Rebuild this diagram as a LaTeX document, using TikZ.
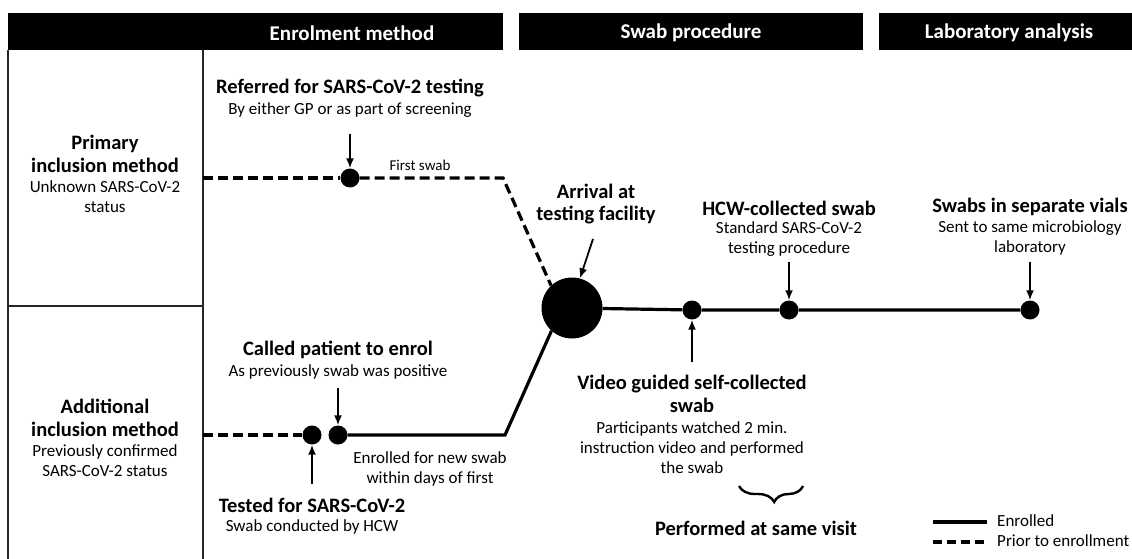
\documentclass[tikz,border=0pt]{standalone}
\usepackage{fontspec}
\setmainfont{Carlito}
\usetikzlibrary{arrows.meta,decorations.pathreplacing}
\begin{document}
\begin{tikzpicture}[x=1pt,y=-1pt,
  ttl/.style={font=\fontsize{20.5}{22.5}\selectfont\bfseries, inner sep=0pt, align=center},
  sub/.style={font=\fontsize{17}{20}\selectfont, inner sep=0pt, align=center},
  hdr/.style={font=\fontsize{21}{22}\selectfont\bfseries, text=white, inner sep=0pt},
  dot/.style={circle, fill=black, minimum size=19pt, inner sep=0pt},
  bigdot/.style={circle, fill=black, minimum size=61pt, inner sep=0pt},
  enr/.style={line width=3.2pt},
  prior/.style={line width=3.2pt, dash pattern=on 10pt off 5pt},
  arr/.style={-{Latex[length=10pt,width=8pt]}, line width=1.8pt},
  frame/.style={line width=1.3pt, draw=black!85},
]
\useasboundingbox (0,0) rectangle (1132,559);
% header bars
\fill (8,13) rectangle (503,50);
\fill (519,13) rectangle (863,50);
\fill (879,13) rectangle (1132,50);
\node[hdr] (h1) at (352,33) {Enrolment method};
\node[hdr] (h2) at (691,33) {Swab procedure};
\node[hdr] (h3) at (1009,33) {Laboratory analysis};
% left column frames
\draw[frame] (8,50) -- (8,559);
\draw[frame] (203,50) -- (203,559);
\draw[frame] (8,306) -- (203,306);
% left column texts
\node[ttl] (pim) at (105,154) {Primary\\inclusion method};
\node[sub] (pims) at (105,197) {Unknown SARS-CoV-2\\status};
\node[ttl] (aim) at (105,418) {Additional\\inclusion method};
\node[sub] (aims) at (105,461) {Previously confirmed\\SARS-CoV-2 status};
% dots
\node[dot] (d1) at (350,178) {};
\node[bigdot] (af) at (572,308) {};
\node[dot] (vs) at (692,310) {};
\node[dot] (hs) at (789,310) {};
\node[dot] (ls) at (1030,310) {};
\node[dot] (ts) at (312,435) {};
\node[dot] (cs) at (338,435) {};
\coordinate (p0) at (203,178);
\coordinate (p1) at (503,178);
\coordinate (q0) at (203,435);
\coordinate (q1) at (505,435);
% lines
\draw[prior] (p0) -- (d1);
\draw[prior] (d1) -- (p1) -- (af.133);
\draw[enr] (af) -- (vs) -- (hs) -- (ls);
\draw[prior] (q0) -- (ts);
\draw[enr] (cs) -- (q1) -- (af.228);
% texts
\node[ttl] (ref) at (350,88) {Referred for SARS-CoV-2 testing};
\node[sub] (refs) at (350,110) {By either GP or as part of screening};
\node[sub, font=\fontsize{15}{17}\selectfont] (fs) at (420,165) {First swab};
\node[ttl] (arrt) at (596,204) {Arrival at\\testing facility};
\node[ttl] (hcw) at (789,208) {HCW-collected swab};
\node[sub] (hcws) at (789,239) {Standard SARS-CoV-2\\testing procedure};
\node[ttl] (sv) at (1030,207) {Swabs in separate vials};
\node[sub] (svs) at (1030,238) {Sent to same microbiology\\laboratory};
\node[ttl] (vg) at (692,394) {Video guided self-collected\\swab};
\node[sub] (vgs) at (692,448) {Participants watched 2 min.\\instruction video and performed\\the swab};
\node[ttl] (psv) at (756,528) {Performed at same visit};
\node[ttl] (cp) at (338,350) {Called patient to enrol};
\node[sub] (cps) at (338,372) {As previously swab was positive};
\node[sub] (en) at (430,469) {Enrolled for new swab\\within days of first};
\node[ttl] (tf) at (312,505) {Tested for SARS-CoV-2};
\node[sub] (tfs) at (312,527) {Swab conducted by HCW};
% arrows
\coordinate (a1) at (350,134);
\coordinate (a2) at (593,239);
\coordinate (a3) at (789,262);
\coordinate (a4) at (1030,262);
\coordinate (a5) at (692,362);
\coordinate (a6) at (338,388);
\coordinate (a7) at (312,484);
\draw[arr] (a1) -- (d1.north);
\draw[arr] (a2) -- (af.75);
\draw[arr] (a3) -- (hs.north);
\draw[arr] (a4) -- (ls.north);
\draw[arr] (a5) -- (vs.south);
\draw[arr] (a6) -- (cs.north);
\draw[arr] (a7) -- (ts.south);
% brace
\coordinate (b1) at (739,486);
\coordinate (b2) at (803,486);
\draw[line width=2.4pt, decorate, decoration={brace, amplitude=16pt, aspect=0.55, mirror}] (b1) -- (b2);
% legend
\coordinate (l1) at (933,522);
\coordinate (l2) at (987,522);
\coordinate (l3) at (933,542);
\coordinate (l4) at (987,542);
\draw[line width=3.2pt] (l1) -- (l2);
\draw[line width=3.2pt, dash pattern=on 9pt off 5pt] (l3) -- (l4);
\node[sub, anchor=west] (le) at (997,521) {Enrolled};
\node[sub, anchor=west] (lp) at (997,541) {Prior to enrollment};
\end{tikzpicture}
\end{document}
